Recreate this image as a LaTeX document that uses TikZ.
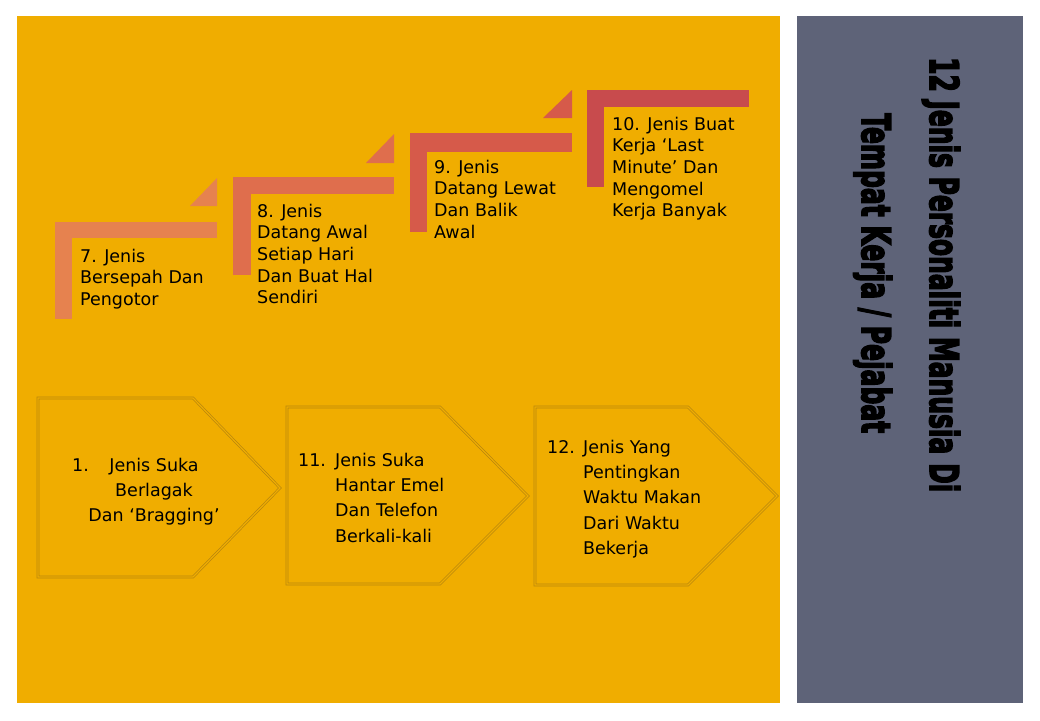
\documentclass[tikz,border=0pt]{standalone}
\usepackage{fontspec}
\setmainfont{DejaVu Sans}
\newfontfamily\titlefont{DejaVu Sans}[BoldFeatures={FakeBold=4.5}]
\usepackage{graphicx}
\definecolor{panelyellow}{HTML}{F0AD00}
\definecolor{panelgray}{HTML}{5E6378}
\definecolor{stepA}{HTML}{E6824F}
\definecolor{stepB}{HTML}{DF6E4D}
\definecolor{stepC}{HTML}{D65A4A}
\definecolor{stepD}{HTML}{C84B4D}
\definecolor{penline}{HTML}{B8860E}
\tikzset{
  steptext/.style={anchor=north west, inner sep=0pt, align=left, font=\fontsize{17.5}{21.6}\selectfont},
  pentext/.style={inner sep=0pt, font=\fontsize{17.5}{25.3}\selectfont},
  pentnum/.style={anchor=base west, inner sep=0pt, font=\fontsize{17.5}{25.3}\selectfont},
  pentshape/.style={draw=penline, line width=0.7pt, double=panelyellow, double distance=1.2pt},
  titletext/.style={rotate=-90, anchor=base west, inner sep=0pt, font=\titlefont\bfseries}
}
\begin{document}
\begin{tikzpicture}[x=1pt,y=-1pt]
\useasboundingbox (0,0) rectangle (1040,720);
\fill[white] (0,0) rectangle (1040,720);
% panels
\fill[panelyellow] (17,16) rectangle (780,703);
\fill[panelgray] (797,16) rectangle (1023,703);
% step 7
\fill[stepA] (55,222) rectangle (217,238);
\fill[stepA] (55,222) rectangle (72,319);
\fill[stepA] (190,206) -- (217,206) -- (217,178) -- cycle;
% step 8
\fill[stepB] (233,177) rectangle (394,194);
\fill[stepB] (233,177) rectangle (251,275);
\fill[stepB] (366,163) -- (394,163) -- (394,134) -- cycle;
% step 9
\fill[stepC] (410,133) rectangle (572,152);
\fill[stepC] (410,133) rectangle (427,232);
\fill[stepC] (543,118) -- (572,118) -- (572,90) -- cycle;
% step 10
\fill[stepD] (587,90) rectangle (749,107);
\fill[stepD] (587,90) rectangle (604,187);
% step texts
\node[steptext] (t7) at (80,248.8) {7. Jenis\\Bersepah Dan\\Pengotor};
\node[steptext] (t8) at (257,203.8) {8. Jenis\\Datang Awal\\Setiap Hari\\Dan Buat Hal\\Sendiri};
\node[steptext] (t9) at (434,159.8) {9. Jenis\\Datang Lewat\\Dan Balik\\Awal};
\node[steptext] (t10) at (612,116.8) {10. Jenis Buat\\Kerja ‘Last\\Minute’ Dan\\Mengomel\\Kerja Banyak};
% pentagons
\draw[pentshape] (38,398) -- (193,398) -- (280,488) -- (193,577) -- (38,577) -- cycle;
\draw[pentshape] (287,407) -- (440,407) -- (528,496) -- (440,584) -- (287,584) -- cycle;
\draw[pentshape] (535,407) -- (688,407) -- (777,496) -- (688,585) -- (535,585) -- cycle;
% pentagon texts
\node[pentnum] (n1) at (72,471) {1.};
\node[pentext, anchor=north, align=center] (b1) at (154,457.8) {Jenis Suka\\Berlagak\\Dan ‘Bragging’};
\node[pentnum] (n11) at (298,466) {11.};
\node[pentext, anchor=north west, align=left] (b11) at (335,452.8) {Jenis Suka\\Hantar Emel\\Dan Telefon\\Berkali-kali};
\node[pentnum] (n12) at (547,453) {12.};
\node[pentext, anchor=north west, align=left] (b12) at (583,439.8) {Jenis Yang\\Pentingkan\\Waktu Makan\\Dari Waktu\\Bekerja};
% title
\node[titletext] (title1) at (930,57) {\resizebox{435pt}{30pt}{12 Jenis Personaliti Manusia Di}};
\node[titletext] (title2) at (862,113) {\resizebox{320pt}{30pt}{Tempat Kerja / Pejabat}};
\end{tikzpicture}
\end{document}
